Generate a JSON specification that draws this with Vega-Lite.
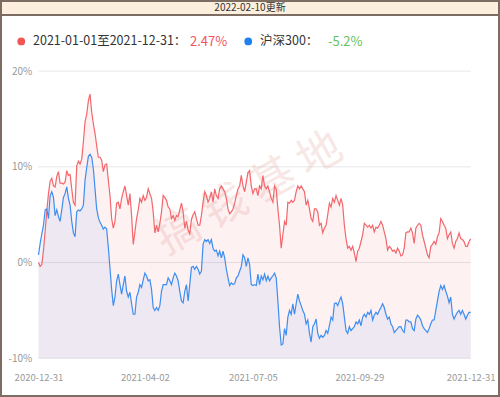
{
  "$schema": "https://vega.github.io/schema/vega-lite/v6.json",
  "padding": 0,
  "spacing": 0,
  "bounds": "flush",
  "background": "white",
  "config": {
    "font": "Noto Sans CJK SC",
    "view": {"stroke": null},
    "axis": {"labelFont": "Noto Sans CJK SC"},
    "legend": {"labelFont": "Noto Sans CJK SC"}
  },
  "datasets": {
    "meta": [
      {"s": "a", "name": "2021-01-01至2021-12-31", "ret": "2.47%"},
      {"s": "b", "name": "沪深300", "ret": "-5.2%"}
    ],
    "series": [
      {"t":0,"a":0,"b":0.8},{"t":1,"a":-0.4,"b":2.0},{"t":2,"a":-0.2,"b":3.0},{"t":3,"a":1.3,"b":3.9},{"t":4,"a":3.3,"b":5.5},
      {"t":5,"a":5.4,"b":5.6},{"t":6,"a":7.2,"b":4.6},{"t":7,"a":8.5,"b":7.0},{"t":8,"a":8.8,"b":7.4},{"t":9,"a":8.0,"b":6.8},
      {"t":10,"a":7.9,"b":4.9},{"t":11,"a":9.0,"b":5.5},{"t":12,"a":9.5,"b":4.8},{"t":13,"a":8.3,"b":4.3},{"t":14,"a":8.3,"b":5.5},
      {"t":15,"a":8.2,"b":6.8},{"t":16,"a":8.4,"b":7.2},{"t":17,"a":9.6,"b":7.9},{"t":18,"a":9.1,"b":6.7},{"t":19,"a":9.2,"b":6.0},
      {"t":20,"a":7.7,"b":4.3},{"t":21,"a":6.3,"b":3.1},{"t":22,"a":6.0,"b":2.7},{"t":23,"a":10.1,"b":5.3},{"t":24,"a":10.6,"b":5.5},
      {"t":25,"a":10.3,"b":5.4},{"t":26,"a":10.8,"b":5.6},{"t":27,"a":12.6,"b":6.0},{"t":28,"a":14.7,"b":8.6},{"t":29,"a":15.5,"b":9.9},
      {"t":30,"a":16.9,"b":11.1},{"t":31,"a":17.6,"b":11.3},{"t":32,"a":15.7,"b":11.0},{"t":33,"a":14.5,"b":9.8},{"t":34,"a":13.5,"b":7.7},
      {"t":35,"a":12.2,"b":5.6},{"t":36,"a":11.0,"b":4.7},{"t":37,"a":11.0,"b":4.2},{"t":38,"a":10.7,"b":3.9},{"t":39,"a":9.5,"b":3.5},
      {"t":40,"a":10.2,"b":3.7},{"t":41,"a":10.3,"b":3.5},{"t":42,"a":8.6,"b":1.6},{"t":43,"a":7.0,"b":-0.6},{"t":44,"a":4.6,"b":-2.8},
      {"t":45,"a":3.6,"b":-4.5},{"t":46,"a":4.3,"b":-3.6},{"t":47,"a":6.2,"b":-1.9},{"t":48,"a":6.3,"b":-1.2},{"t":49,"a":5.6,"b":-2.3},
      {"t":50,"a":6.7,"b":-3.3},{"t":51,"a":7.4,"b":-2.3},{"t":52,"a":8.0,"b":-1.4},{"t":53,"a":7.0,"b":-3.0},{"t":54,"a":6.0,"b":-3.6},
      {"t":55,"a":7.2,"b":-3.1},{"t":56,"a":4.9,"b":-4.3},{"t":57,"a":1.9,"b":-5.4},{"t":58,"a":3.2,"b":-5.4},{"t":59,"a":4.6,"b":-3.6},
      {"t":60,"a":5.5,"b":-3.1},{"t":61,"a":6.7,"b":-2.3},{"t":62,"a":6.3,"b":-2.6},{"t":63,"a":7.0,"b":-1.8},{"t":64,"a":6.5,"b":-1.1},
      {"t":65,"a":6.8,"b":-1.4},{"t":66,"a":7.7,"b":-1.9},{"t":67,"a":7.2,"b":-1.8},{"t":68,"a":6.7,"b":-2.8},{"t":69,"a":5.3,"b":-4.7},
      {"t":70,"a":3.1,"b":-5.0},{"t":71,"a":3.9,"b":-4.7},{"t":72,"a":3.2,"b":-5.0},{"t":73,"a":4.1,"b":-4.5},{"t":74,"a":5.3,"b":-3.0},
      {"t":75,"a":7.0,"b":-2.3},{"t":76,"a":6.8,"b":-2.3},{"t":77,"a":6.5,"b":-2.3},{"t":78,"a":5.8,"b":-1.6},{"t":79,"a":5.6,"b":-1.9},
      {"t":80,"a":4.6,"b":-2.3},{"t":81,"a":4.9,"b":-1.6},{"t":82,"a":4.4,"b":-1.1},{"t":83,"a":4.9,"b":-1.4},{"t":84,"a":4.8,"b":-1.9},
      {"t":85,"a":5.5,"b":-3.0},{"t":86,"a":6.2,"b":-4.0},{"t":87,"a":5.3,"b":-4.2},{"t":88,"a":3.6,"b":-3.0},{"t":89,"a":4.3,"b":-2.3},
      {"t":90,"a":3.4,"b":-4.0},{"t":91,"a":3.0,"b":-2.3},{"t":92,"a":4.5,"b":-0.5},{"t":93,"a":5.0,"b":-0.4},{"t":94,"a":5.3,"b":-0.7},
      {"t":95,"a":4.6,"b":-0.4},{"t":96,"a":3.9,"b":-0.7},{"t":97,"a":3.9,"b":-1.2},{"t":98,"a":4.9,"b":-0.9},{"t":99,"a":6.3,"b":1.9},
      {"t":100,"a":7.4,"b":2.4},{"t":101,"a":7.0,"b":2.2},{"t":102,"a":6.3,"b":2.4},{"t":103,"a":6.7,"b":2.0},{"t":104,"a":7.4,"b":2.4},
      {"t":105,"a":6.3,"b":1.5},{"t":106,"a":7.7,"b":1.2},{"t":107,"a":7.0,"b":1.3},{"t":108,"a":6.7,"b":0.7},{"t":109,"a":7.7,"b":1.2},
      {"t":110,"a":8.0,"b":0.5},{"t":111,"a":7.7,"b":1.2},{"t":112,"a":7.4,"b":0.5},{"t":113,"a":6.7,"b":-0.7},{"t":114,"a":5.6,"b":-1.6},
      {"t":115,"a":5.1,"b":-2.4},{"t":116,"a":5.3,"b":-2.1},{"t":117,"a":5.6,"b":-2.3},{"t":118,"a":6.2,"b":-2.2},{"t":119,"a":7.0,"b":-1.6},
      {"t":120,"a":7.7,"b":-1.4},{"t":121,"a":8.0,"b":-0.9},{"t":122,"a":9.1,"b":-0.4},{"t":123,"a":8.0,"b":0.8},{"t":124,"a":7.4,"b":0.5},
      {"t":125,"a":8.4,"b":-0.4},{"t":126,"a":9.4,"b":0.5},{"t":127,"a":9.6,"b":-0.2},{"t":128,"a":8.0,"b":-2.3},{"t":129,"a":7.2,"b":-2.4},
      {"t":130,"a":7.7,"b":-2.3},{"t":131,"a":7.7,"b":-2.4},{"t":132,"a":7.0,"b":-1.2},{"t":133,"a":8.0,"b":-2.3},{"t":134,"a":7.7,"b":-1.4},
      {"t":135,"a":9.1,"b":-1.8},{"t":136,"a":8.0,"b":-1.2},{"t":137,"a":7.7,"b":-1.9},{"t":138,"a":8.0,"b":-1.4},{"t":139,"a":7.4,"b":-1.9},
      {"t":140,"a":6.7,"b":-1.6},{"t":141,"a":6.3,"b":-1.4},{"t":142,"a":8.0,"b":-1.1},{"t":143,"a":7.7,"b":-1.6},{"t":144,"a":5.6,"b":-4.0},
      {"t":145,"a":3.9,"b":-6.7},{"t":146,"a":1.5,"b":-8.6},{"t":147,"a":2.9,"b":-8.5},{"t":148,"a":4.3,"b":-6.9},{"t":149,"a":3.9,"b":-7.6},
      {"t":150,"a":6.3,"b":-5.7},{"t":151,"a":6.2,"b":-5.0},{"t":152,"a":6.5,"b":-5.4},{"t":153,"a":6.3,"b":-4.3},{"t":154,"a":6.5,"b":-5.4},
      {"t":155,"a":7.4,"b":-4.3},{"t":156,"a":8.0,"b":-3.3},{"t":157,"a":7.7,"b":-4.0},{"t":158,"a":8.0,"b":-4.5},{"t":159,"a":7.7,"b":-5.0},
      {"t":160,"a":7.4,"b":-5.4},{"t":161,"a":6.0,"b":-6.4},{"t":162,"a":6.5,"b":-6.0},{"t":163,"a":5.6,"b":-7.4},{"t":164,"a":4.6,"b":-8.3},
      {"t":165,"a":4.3,"b":-6.7},{"t":166,"a":5.6,"b":-6.4},{"t":167,"a":5.6,"b":-5.9},{"t":168,"a":5.3,"b":-7.4},{"t":169,"a":3.9,"b":-7.9},
      {"t":170,"a":4.1,"b":-7.6},{"t":171,"a":3.1,"b":-7.8},{"t":172,"a":3.6,"b":-7.6},{"t":173,"a":3.9,"b":-7.1},{"t":174,"a":5.0,"b":-7.4},
      {"t":175,"a":6.2,"b":-6.6},{"t":176,"a":5.8,"b":-5.7},{"t":177,"a":6.7,"b":-6.0},{"t":178,"a":6.3,"b":-4.3},{"t":179,"a":7.0,"b":-4.2},
      {"t":180,"a":6.5,"b":-4.5},{"t":181,"a":6.0,"b":-4.0},{"t":182,"a":6.7,"b":-3.6},{"t":183,"a":6.0,"b":-4.3},{"t":184,"a":3.9,"b":-5.7},
      {"t":185,"a":2.5,"b":-7.1},{"t":186,"a":1.5,"b":-7.4},{"t":187,"a":1.7,"b":-6.7},{"t":188,"a":1.3,"b":-7.1},{"t":189,"a":1.7,"b":-6.9},
      {"t":190,"a":1.0,"b":-6.7},{"t":191,"a":0.1,"b":-6.2},{"t":192,"a":1.2,"b":-6.4},{"t":193,"a":1.5,"b":-6.0},{"t":194,"a":2.2,"b":-6.6},
      {"t":195,"a":2.9,"b":-5.7},{"t":196,"a":4.1,"b":-5.4},{"t":197,"a":3.9,"b":-5.7},{"t":198,"a":3.7,"b":-5.2},{"t":199,"a":3.9,"b":-5.4},
      {"t":200,"a":3.6,"b":-5.0},{"t":201,"a":3.9,"b":-6.0},{"t":202,"a":3.2,"b":-5.5},{"t":203,"a":3.7,"b":-5.2},{"t":204,"a":3.6,"b":-5.4},
      {"t":205,"a":3.9,"b":-5.0},{"t":206,"a":4.3,"b":-4.7},{"t":207,"a":3.9,"b":-4.3},{"t":208,"a":3.2,"b":-4.7},{"t":209,"a":2.5,"b":-5.4},
      {"t":210,"a":1.3,"b":-5.9},{"t":211,"a":1.7,"b":-5.7},{"t":212,"a":1.5,"b":-6.4},{"t":213,"a":1.2,"b":-6.7},{"t":214,"a":1.3,"b":-7.3},
      {"t":215,"a":1.0,"b":-7.1},{"t":216,"a":1.5,"b":-6.9},{"t":217,"a":1.2,"b":-6.7},{"t":218,"a":0.7,"b":-6.7},{"t":219,"a":0.8,"b":-7.1},
      {"t":220,"a":1.5,"b":-7.3},{"t":221,"a":3.1,"b":-6.0},{"t":222,"a":3.2,"b":-6.0},{"t":223,"a":3.2,"b":-6.2},{"t":224,"a":3.6,"b":-6.2},
      {"t":225,"a":3.1,"b":-6.9},{"t":226,"a":2.0,"b":-7.1},{"t":227,"a":3.6,"b":-5.9},{"t":228,"a":3.9,"b":-5.5},{"t":229,"a":4.1,"b":-5.7},
      {"t":230,"a":3.9,"b":-6.0},{"t":231,"a":2.9,"b":-6.6},{"t":232,"a":2.2,"b":-6.9},{"t":233,"a":1.5,"b":-7.1},{"t":234,"a":0.8,"b":-7.3},
      {"t":235,"a":0.5,"b":-6.9},{"t":236,"a":1.7,"b":-6.4},{"t":237,"a":1.9,"b":-6.0},{"t":238,"a":2.2,"b":-6.0},{"t":239,"a":1.9,"b":-5.0},
      {"t":240,"a":2.7,"b":-4.0},{"t":241,"a":3.1,"b":-3.0},{"t":242,"a":4.6,"b":-2.4},{"t":243,"a":4.3,"b":-2.8},{"t":244,"a":3.9,"b":-2.4},
      {"t":245,"a":3.6,"b":-3.0},{"t":246,"a":2.5,"b":-3.5},{"t":247,"a":2.9,"b":-4.2},{"t":248,"a":3.2,"b":-3.6},{"t":249,"a":2.0,"b":-5.4},
      {"t":250,"a":1.5,"b":-5.9},{"t":251,"a":2.2,"b":-5.5},{"t":252,"a":2.5,"b":-5.2},{"t":253,"a":3.1,"b":-5.0},{"t":254,"a":2.5,"b":-5.4},
      {"t":255,"a":2.4,"b":-5.0},{"t":256,"a":2.2,"b":-5.4},{"t":257,"a":1.7,"b":-5.9},{"t":258,"a":1.7,"b":-5.5},{"t":259,"a":2.2,"b":-5.2},
      {"t":260,"a":2.47,"b":-5.2}
    ]
  },
  "vconcat": [
    {
      "width": 498,
      "height": 14,
      "view": {"fill": "#fcefdd", "stroke": "#7c6c62", "strokeWidth": 2},
      "data": {"values": [{"label": "2022-02-10更新"}]},
      "mark": {"type": "text", "fontSize": 10, "color": "#333333", "align": "center", "baseline": "middle"},
      "encoding": {"text": {"field": "label"}}
    },
    {
      "width": 498,
      "height": 381,
      "view": {"fill": "white", "stroke": "#7c6c62", "strokeWidth": 2},
      "layer": [
        {
          "data": {"values": [{"g": -10}, {"g": 0}, {"g": 10}, {"g": 20}]},
          "mark": {"type": "rule", "color": "#e6e6e6", "strokeWidth": 1},
          "encoding": {
            "y": {"field": "g", "type": "quantitative", "title": null},
            "x": {"datum": 0, "type": "quantitative", "title": null},
            "x2": {"datum": 260}
          }
        },
        {
          "data": {"values": [{"w": "搞      钱      基      地"}]},
          "mark": {"type": "text", "fontSize": 44, "angle": -29, "color": "#e8b8b0", "opacity": 0.32, "dx": 5, "dy": -10, "align": "center", "baseline": "middle"},
          "encoding": {"text": {"field": "w"}}
        },
        {
          "data": {"name": "series"},
          "transform": [
            {"fold": ["a", "b"], "as": ["s", "v"]},
            {"lookup": "s", "from": {"data": {"name": "meta"}, "key": "s", "fields": ["name", "ret"]}}
          ],
          "mark": {"type": "area", "fillOpacity": 0.085, "line": false},
          "encoding": {
            "x": {
              "field": "t", "type": "quantitative", "title": null,
              "scale": {"domain": [0, 260], "range": [37.5, 469.7], "nice": false, "zero": false},
              "axis": {
                "values": [0, 64, 129, 193, 260],
                "labelExpr": "datum.value == 0 ? '2020-12-31' : datum.value == 64 ? '2021-04-02' : datum.value == 129 ? '2021-07-05' : datum.value == 193 ? '2021-09-29' : '2021-12-31'",
                "domain": false, "ticks": false, "grid": false, "labelPadding": 0, "offset": -18.5,
                "labelBaseline": "middle", "labelFontSize": 9.5, "labelColor": "#999999", "labelFlush": false, "labelOverlap": false
              }
            },
            "y": {
              "field": "v", "type": "quantitative", "title": null, "stack": null,
              "scale": {"domain": [-10, 20], "range": [343.3, 56.1], "nice": false, "zero": false},
              "axis": {
                "values": [-10, 0, 10, 20],
                "labelExpr": "datum.value + '%'",
                "domain": false, "ticks": false, "grid": false, "labelPadding": 0, "offset": -30.7,
                "labelFontSize": 10, "labelColor": "#999999"
              }
            },
            "y2": {"datum": -10},
            "fill": {
              "field": "ret", "type": "nominal",
              "scale": {"domain": ["2.47%", "-5.2%"], "range": ["#f0606a", "#3c8cf0"]},
              "legend": {
                "orient": "none", "legendX": 176, "legendY": 34, "direction": "horizontal", "title": null,
                "symbolSize": 0, "symbolOpacity": 0, "symbolStrokeWidth": 0, "labelOffset": 0,
                "columnPadding": 87, "labelFontSize": 13, "padding": 0, "labelLimit": 400,
                "encode": {"labels": {"update": {"fill": {"signal": "datum.value == '2.47%' ? '#ef5261' : '#63c35d'"}}}}
              }
            }
          }
        },
        {
          "data": {"name": "series"},
          "transform": [
            {"fold": ["a", "b"], "as": ["s", "v"]},
            {"lookup": "s", "from": {"data": {"name": "meta"}, "key": "s", "fields": ["name", "ret"]}}
          ],
          "mark": {"type": "line", "strokeWidth": 1.2},
          "encoding": {
            "x": {"field": "t", "type": "quantitative", "title": null},
            "y": {"field": "v", "type": "quantitative", "title": null},
            "color": {
              "field": "name", "type": "nominal",
              "scale": {"domain": ["2021-01-01至2021-12-31", "沪深300"], "range": ["#f2676c", "#3d8ef0"]},
              "legend": {
                "orient": "none", "legendX": 14, "legendY": 34, "direction": "horizontal", "title": null,
                "symbolType": "circle", "symbolSize": 60, "symbolStrokeWidth": 0, "labelFontSize": 12.5,
                "labelColor": "#333333", "labelOffset": 5.5, "columnPadding": 55, "labelLimit": 400, "padding": 0,
                "labelExpr": "datum.label + '：'",
                "encode": {"symbols": {"update": {"fill": {"signal": "datum.value == '沪深300' ? '#1f80f0' : '#f25555'"}, "fillOpacity": {"value": 1}, "stroke": {"value": "transparent"}}}}
              }
            }
          }
        }
      ]
    }
  ]
}
